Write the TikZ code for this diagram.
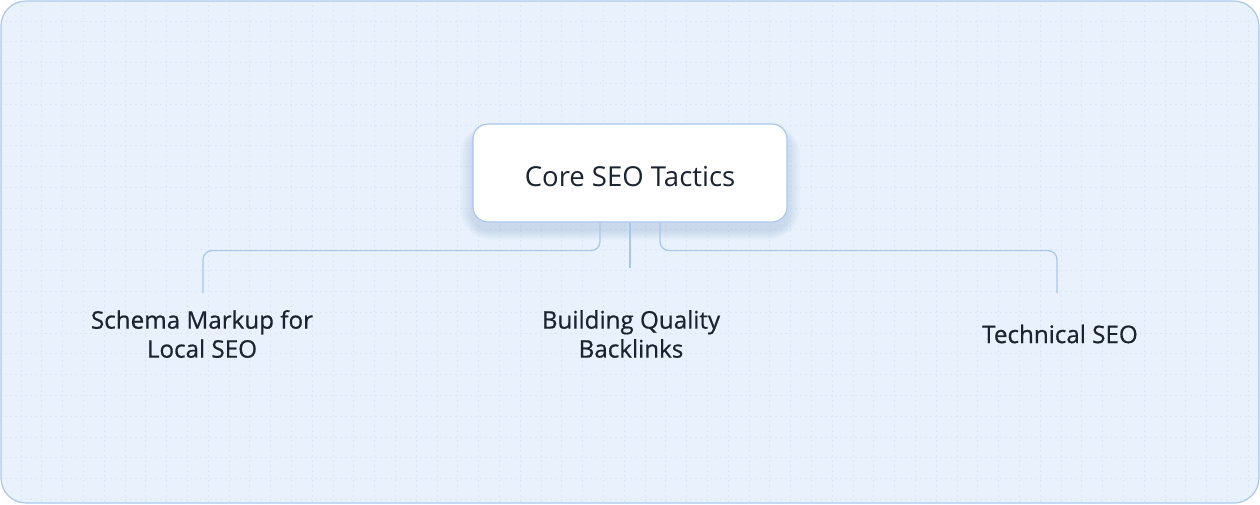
\documentclass[tikz,border=0pt]{standalone}
\usepackage{fontspec}
\setmainfont{Open Sans}
\newfontfamily\leaffont[FakeBold=0.6]{Open Sans}
\definecolor{bgfill}{HTML}{E8F1FC}
\definecolor{bgline}{HTML}{A9C7EE}
\definecolor{gridc}{HTML}{DCE7F5}
\definecolor{conncol}{HTML}{A6C6EA}
\definecolor{shadowc}{HTML}{7F9CC4}
\definecolor{txt}{HTML}{1B2230}
\tikzset{
  corebox/.style={draw=bgline, line width=1.2pt, fill=white, rounded corners=15pt,
    minimum width=314pt, minimum height=98pt, inner sep=0pt,
    font=\fontsize{27.5}{30}\selectfont, text=txt},
  leaf/.style={align=center, font=\leaffont\fontsize{24.2}{29}\selectfont, text=txt, inner sep=0pt},
  conn/.style={draw=conncol, line width=1.2pt, rounded corners=9pt},
  softshadow/.style={fill=shadowc, fill opacity=0.035, rounded corners=#1},
}
\begin{document}
\begin{tikzpicture}[x=1pt,y=-1pt]
\useasboundingbox (0,0) rectangle (1260,504);
\fill[bgfill, rounded corners=25pt] (1,1) rectangle (1259,503);
\begin{scope}
\clip[rounded corners=25pt] (1,1) rectangle (1259,503);
\foreach \i in {0,...,60} {
  \draw[gridc, line width=0.6pt, dash pattern=on 2pt off 3pt] (\i*20.8,0) -- (\i*20.8,504);
}
\foreach \j in {0,...,24} {
  \draw[gridc, line width=0.6pt, dash pattern=on 2pt off 3pt] (0,\j*20.8) -- (1260,\j*20.8);
}
\end{scope}
\draw[bgline, line width=1.2pt, rounded corners=25pt] (1,1) rectangle (1259,503);

% soft shadow under the central box
\foreach \s in {2,4,...,16} {
  \fill[softshadow=15pt+\s pt] (473-\s*0.8,124+8-\s*0.5) rectangle (787+\s*0.8,222+8+\s*0.6);
}

\node[corebox] (core) at (630,173) {\raisebox{-4pt}[\height][\depth]{Core SEO Tactics}};
\node[leaf] (schema) at (202,334) {Schema Markup for\\Local SEO};
\node[leaf] (backlinks) at (631,334) {Building Quality\\Backlinks};
\node[leaf] (tech) at (1060,334) {Technical SEO};

\coordinate (schemaend) at (203,293);
\coordinate (backend) at (630,268);
\coordinate (techend) at (1057,293);

\draw[conn] ([xshift=-30pt]core.south) -- ++(0,28) -| (schemaend);
\draw[conn] (core.south) -- (backend);
\draw[conn] ([xshift=30pt]core.south) -- ++(0,28) -| (techend);
\end{tikzpicture}
\end{document}
